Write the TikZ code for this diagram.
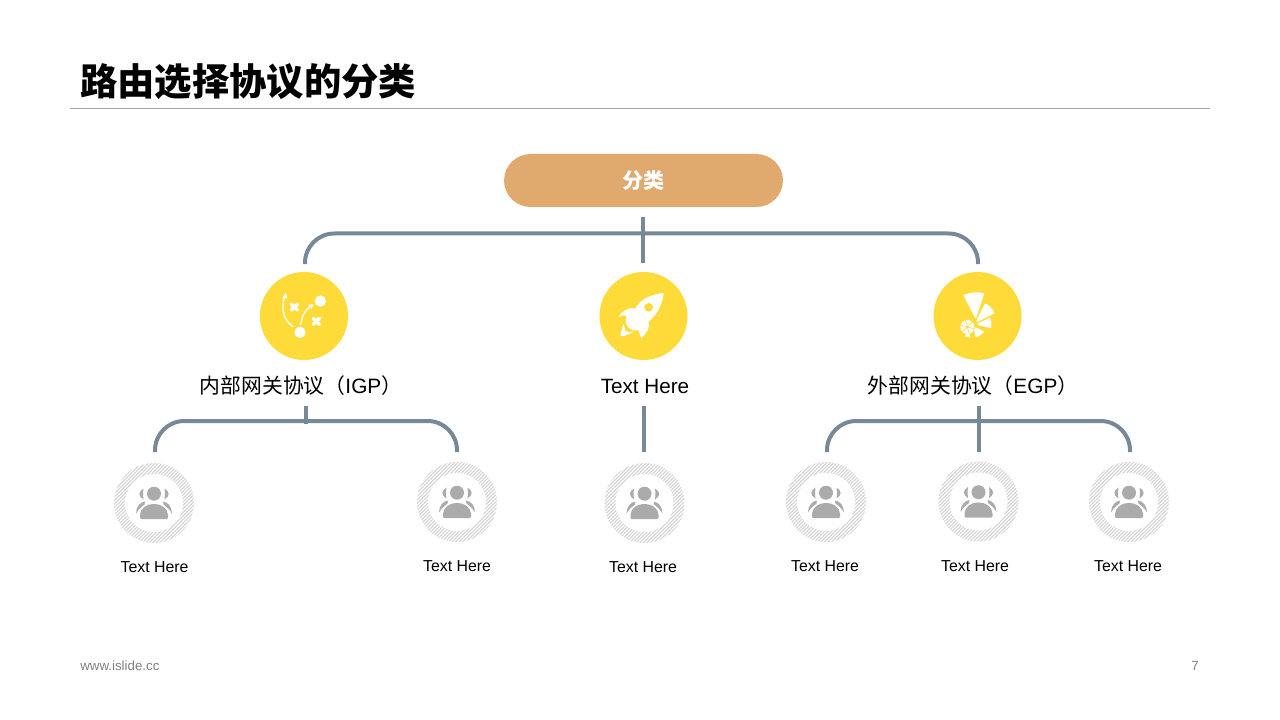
\documentclass[tikz,border=0pt]{standalone}
\usepackage{fontspec}
\setmainfont{Liberation Sans}
\newfontfamily\cjk{Noto Sans CJK SC}
\definecolor{ylw}{HTML}{FFDB3A}
\definecolor{conn}{HTML}{778899}
\definecolor{rootc}{HTML}{E0A96D}
\definecolor{grayic}{HTML}{ABABAB}
\definecolor{hatchc}{HTML}{D8D8D8}
\definecolor{foot}{HTML}{808080}
\tikzset{
  connector/.style={draw=conn,line width=3pt},
  bendline/.style={connector,rounded corners=22pt},
  badge/.style={circle,fill=ylw,minimum size=66pt,inner sep=0pt},
  bigtxt/.style={font=\fontsize{15.5pt}{18pt}\selectfont,inner sep=0pt},
  bigc/.style={font=\fontsize{15.6pt}{18pt}\selectfont\cjk,inner sep=0pt},
  smalltxt/.style={font=\fontsize{11.9pt}{14pt}\selectfont,inner sep=0pt},
  ring/.pic={
    \begin{scope}
      \clip (0,0) circle (40);
      \foreach \d in {-63,-59.5,...,63} \draw[hatchc,line width=1pt] (\d-50,50) -- (\d+50,-50);
    \end{scope}
    \fill[white] (0,0) circle (29);
    \fill[grayic] (0,-9.3) circle (7);
    \fill[grayic,rounded corners=0.8pt] (-14,16) -- (-14,13) .. controls (-14,5.5) and (-7,1) .. (0,1) .. controls (7,1) and (14,5.5) .. (14,13) -- (14,16) -- cycle;
    \foreach \s in {1,-1} {
      \fill[grayic] (\s*-10.5,-14.5) .. controls (\s*-16,-11) and (\s*-16,-7) .. (\s*-10.5,-3.5) .. controls (\s*-11,-7) and (\s*-11,-11) .. (\s*-10.5,-14.5) -- cycle;
      \fill[grayic] (\s*-9,-1.5) .. controls (\s*-14,-1) and (\s*-18,4) .. (\s*-18,10.5) .. controls (\s*-15.5,6) and (\s*-12,3.5) .. (\s*-9.5,1.5) -- cycle;
    }
  }
}
\begin{document}
\begin{tikzpicture}[x=0.75pt,y=-0.75pt]
\useasboundingbox (0,0) rectangle (1280,720);
% header
\node[anchor=west,inner sep=0pt,font=\fontsize{28pt}{32pt}\selectfont\cjk\bfseries] (title) at (80,82) {路由选择协议的分类};
\coordinate (ruleL) at (70,108.5);
\coordinate (ruleR) at (1210,108.5);
\draw[color=black!35,line width=0.75pt] (ruleL) -- (ruleR);
% root
\node[fill=rootc,rounded corners=20pt,minimum width=209.25pt,minimum height=39.75pt,inner sep=0pt,text=white,font=\fontsize{15.8pt}{18pt}\selectfont\cjk\bfseries] (root) at (643.5,180.5) {\raisebox{-0.8pt}{分类}};
% badges
\node[badge] (b1) at (304,316) {};
\node[badge] (b2) at (643.5,316) {};
\node[badge] (b3) at (977.5,316) {};
% labels
\node[bigc] (l1) at (301,386) {内部网关协议（{\rmfamily IGP}）};
\node[bigtxt] (l2) at (645,386) {Text Here};
\node[bigc] (l3) at (973,386) {外部网关协议（{\rmfamily EGP}）};
% connectors level 1
\coordinate (top) at (643,217);
\coordinate (topb) at (643,263);
\coordinate (bar) at (643,233.5);
\coordinate (a1) at (305,264);
\coordinate (a3) at (978,264);
\draw[bendline] (a1) |- (bar) -| (a3);
\draw[connector] (top) -- (topb);
% connectors level 2
\coordinate (s1) at (306,406);
\coordinate (s1b) at (306,424);
\coordinate (bar1) at (306,421);
\coordinate (c1) at (155,452);
\coordinate (c2) at (457,452);
\draw[bendline] (c1) |- (bar1) -| (c2);
\draw[connector] (s1) -- (s1b);
\coordinate (s2) at (644,406);
\coordinate (s2b) at (644,452);
\draw[connector] (s2) -- (s2b);
\coordinate (s3) at (978.5,406);
\coordinate (s3b) at (978.5,452);
\coordinate (bar3) at (978,421);
\coordinate (c4) at (827,452);
\coordinate (c6) at (1130,452);
\draw[bendline] (c4) |- (bar3) -| (c6);
\draw[connector] (s3) -- (s3b);
% rings
\coordinate (r1) at (154,503);
\coordinate (r2) at (457,502);
\coordinate (r3) at (644.5,503);
\coordinate (r4) at (826,502);
\coordinate (r5) at (978.5,501.5);
\coordinate (r6) at (1129,502);
\foreach \r in {r1,r2,r3,r4,r5,r6} \pic at (\r) {ring};
% ring captions
\node[smalltxt] (t1) at (154.5,567) {Text Here};
\node[smalltxt] (t2) at (457,566) {Text Here};
\node[smalltxt] (t3) at (643,567) {Text Here};
\node[smalltxt] (t4) at (825,566.5) {Text Here};
\node[smalltxt] (t5) at (975,566) {Text Here};
\node[smalltxt] (t6) at (1128,566.5) {Text Here};
% icon 1: play diagram
\begin{scope}[shift={(250,265)},x=0.25pt,y=-0.25pt]
  \fill[white] (150,202) circle (17);
  \fill[white] (211,108) circle (17);
  \draw[white,line width=2.6pt,line cap=round] (124,118) -- (142,135) (142,118) -- (124,135);
  \draw[white,line width=2.6pt,line cap=round] (190,160) -- (208,178) (208,160) -- (190,178);
  \draw[white,line width=1pt] (130,186) .. controls (100,165) and (92,130) .. (104,95);
  \fill[white] (107,84) -- (97,99) -- (113,100) -- cycle;
  \draw[white,line width=1pt] (152,180) .. controls (155,155) and (165,135) .. (181,124);
  \fill[white] (191,118) -- (175,119) -- (185,132) -- cycle;
\end{scope}
% icon 2: rocket
\begin{scope}[shift={(590,265)},x=0.25pt,y=-0.25pt]
  \fill[white] (221,84) .. controls (178,88) and (150,105) .. (136,130)
     .. controls (115,125) and (98,138) .. (85,155) .. controls (95,151) and (103,151) .. (110,152)
     .. controls (100,178) and (118,200) .. (146,196) .. controls (148,204) and (150,211) .. (153,219)
     .. controls (170,206) and (180,190) .. (176,170) .. controls (208,142) and (218,110) .. (221,84) -- cycle;
  \fill[ylw] (176,127) circle (13);
  \fill[white] (101,177) .. controls (96,190) and (92,203) .. (91,214) .. controls (107,213) and (120,207) .. (131,199) .. controls (122,202) and (113,202) .. (106,198) .. controls (104,190) and (103,184) .. (101,177) -- cycle;
\end{scope}
% icon 3: fan
\begin{scope}[shift={(925,265)},x=0.25pt,y=-0.25pt]
  \fill[white,rounded corners=0.6pt] (115,90) .. controls (135,82) and (160,80) .. (178,85) -- (152,162) -- cycle;
  \fill[white,rounded corners=0.6pt] (180,115) .. controls (193,120) and (203,132) .. (208,145) -- (155,172) -- (154,166) -- cycle;
  \fill[white,rounded corners=0.6pt] (195,158) .. controls (200,170) and (200,180) .. (198,190) -- (158,180) -- (158,175) -- cycle;
  \fill[white,rounded corners=0.6pt] (178,200) .. controls (170,208) and (162,214) .. (152,218) -- (146,190) -- (152,187) -- cycle;
  \fill[white] (136,217) .. controls (130,217) and (125,216) .. (120,213) -- (130,192) -- cycle;
  \fill[white] (127,186) circle (21);
  \foreach \a in {15,75,135,195,255,315}
    \draw[ylw,line width=0.45pt] (127,186) -- +(\a:23);
  \fill[ylw] (127,186) circle (4);
\end{scope}
% footer
\node[anchor=west,inner sep=0pt,text=foot,font=\fontsize{10pt}{12pt}\selectfont] (f1) at (80,666) {www.islide.cc};
\node[inner sep=0pt,text=foot,font=\fontsize{10pt}{12pt}\selectfont] (f2) at (1195,666) {7};
\end{tikzpicture}
\end{document}
